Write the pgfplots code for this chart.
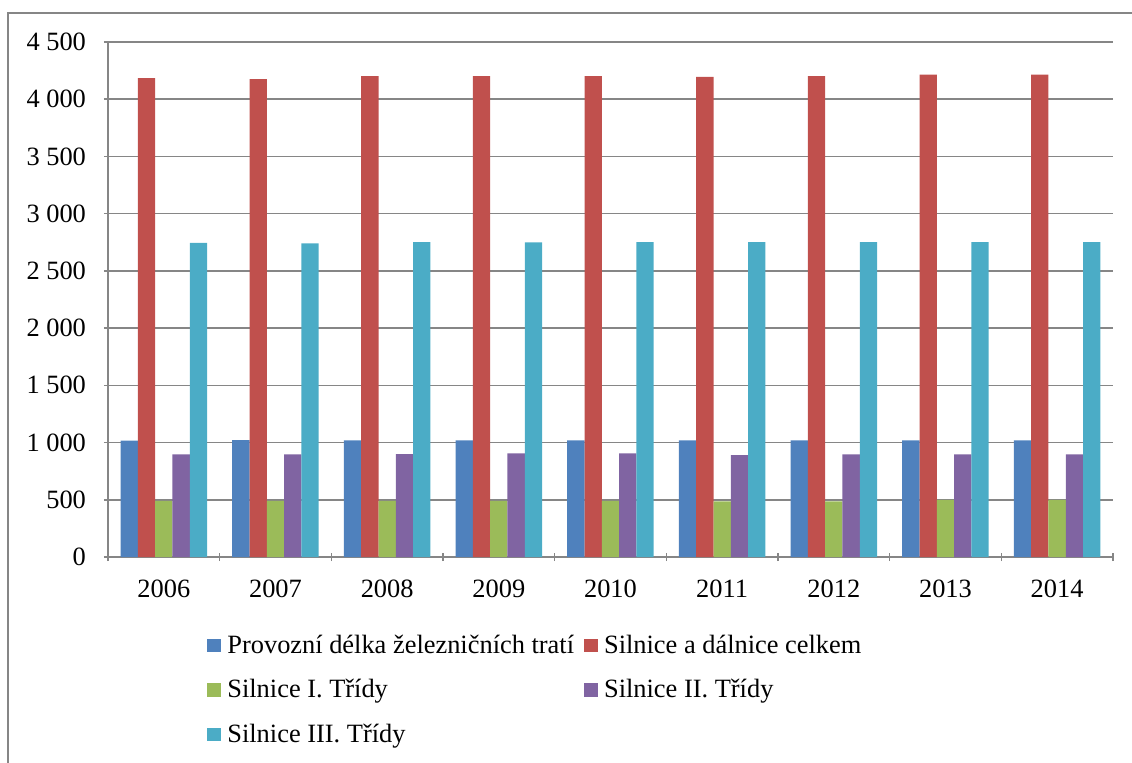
\documentclass[border=0pt]{standalone}
\usepackage{fontspec}
\setmainfont{Liberation Serif}
\usepackage{pgfplots}
\pgfplotsset{compat=1.18}
\usepackage{pgfplotstable}

\definecolor{cBlue}{RGB}{79,129,189}
\definecolor{cRed}{RGB}{192,80,77}
\definecolor{cGreen}{RGB}{155,187,89}
\definecolor{cPurple}{RGB}{128,100,162}
\definecolor{cCyan}{RGB}{75,172,198}
\definecolor{gridgray}{RGB}{134,134,134}

% x = index of the year (0 = 2006 ... 8 = 2014)
\pgfplotstableread{
x  zel   celk  tr1  tr2  tr3
0  1016  4184  490  897  2744
1  1022  4175  490  897  2741
2  1020  4201  490  900  2752
3  1020  4201  490  906  2750
4  1020  4201  490  906  2752
5  1020  4195  485  891  2752
6  1020  4201  485  897  2752
7  1020  4216  500  897  2752
8  1020  4216  500  897  2752
}\data

\begin{document}
\begin{tikzpicture}
\useasboundingbox (-54pt,-102.5pt) rectangle (512pt,278.5pt);
\draw[gridgray, line width=0.75pt] (-50pt,-110pt) -- (-50pt,272pt) -- (520pt,272pt);
\begin{axis}[
    at={(0,0)}, anchor=south west,
    scale only axis,
    width=502.5pt, height=257.5pt,
    ybar=0pt, bar width=8.65pt,
    xmin=-0.5, xmax=8.5,
    ymin=0, ymax=4500,
    xtick={0,...,8},
    xticklabels={2006,2007,2008,2009,2010,2011,2012,2013,2014},
    xtick style={draw=none},
    extra x ticks={-0.5,0.5,...,8.5},
    extra x tick labels={},
    extra x tick style={grid=none, xtick style={draw=gridgray, line width=0.8pt}},
    ytick={0,500,...,4500},
    tick align=outside,
    major tick length=4pt,
    ytick style={draw=gridgray, line width=0.8pt},
    axis lines=left,
    axis line style={-, draw=gridgray, line width=0.8pt},
    ymajorgrids,
    major grid style={draw=gridgray, line width=0.8pt},
    tick label style={font=\fontsize{13.2}{15}\selectfont},
    xticklabel style={yshift=-6pt},
    yticklabel style={xshift=-5.5pt},
    /pgf/number format/.cd, 1000 sep={\ }, assume math mode=true, /pgfplots/.cd,
    legend columns=2,
    legend cell align=left,
    legend style={
        at={(axis description cs:0.0985,-0.1456)}, anchor=north west,
        draw=none, inner sep=0pt, row sep=7.25pt,
        font=\fontsize{13.2}{15}\selectfont,
        nodes={inner sep=1.5pt, text height=9pt, text depth=3pt},
        /tikz/every odd column/.append style={column sep=1.5pt},
        /tikz/every even column/.append style={column sep=3.5pt},
    },
    legend image code/.code={\path[#1] (0pt,-2.4pt) rectangle (7pt,4.2pt);},
]
\addplot[fill=cBlue, draw=none] table[x=x, y=zel] {\data};
\addplot[fill=cRed, draw=none] table[x=x, y=celk] {\data};
\addplot[fill=cGreen, draw=none] table[x=x, y=tr1] {\data};
\addplot[fill=cPurple, draw=none] table[x=x, y=tr2] {\data};
\addplot[fill=cCyan, draw=none] table[x=x, y=tr3] {\data};
\legend{Provozní délka železničních tratí, Silnice a dálnice celkem,
        Silnice I. Třídy, Silnice II. Třídy, Silnice III. Třídy}
\end{axis}
\end{tikzpicture}
\end{document}
